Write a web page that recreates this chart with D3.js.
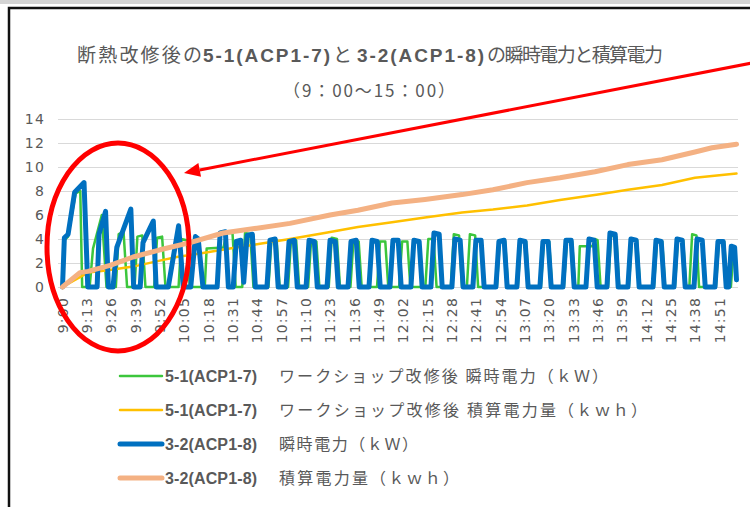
<!DOCTYPE html>
<html lang="ja">
<head>
<meta charset="UTF-8">
<title>瞬時電力と積算電力</title>
<style>
  body { margin: 0; background: #fff; }
  text { fill: #595959; }
  .jp { font-family: "Noto Sans CJK JP", sans-serif; }
  .lat { font-family: "Liberation Sans Narrow", "Liberation Sans", sans-serif; font-weight: bold; }
  .tick { font-family: "DejaVu Sans", sans-serif; font-size: 14px; letter-spacing: 1.2px; }
  .grid { stroke: #d9d9d9; stroke-width: 1; }
  .series { fill: none; stroke-linejoin: round; stroke-linecap: round; }
</style>
</head>
<body>
<script src="https://cdn.jsdelivr.net/npm/d3@7"></script>
<script>
// minutes after 9:00, value
const green51Kw = [
  [0,0],[1,3.9],[3,4.2],[7,7.8],[9.5,8.0],[10.5,0],
  [14.5,0],[16.3,3.2],[21,6.0],[23.5,0],
  [28.5,0],[30,4.4],[32.6,4.6],[34.5,0],
  [38.5,0],[40,4.2],[42.6,4.3],[44.3,0],
  [49,0],[50.5,4.1],[53.2,4.2],[55,0],
  [62,0],[63.5,4.0],[66.3,3.9],[68,0],
  [76,0],[77,3.2],[86,3.3],[87.5,4.5],[90.8,4.5],[92.5,0],
  [96,0],[97.5,4.5],[100.3,4.4],[102,0],
  [110,0],[111.6,3.9],[114.4,3.9],[116,0],
  [120.5,0],[122,3.8],[124.8,3.9],[126.4,0],
  [131.2,0],[132.8,3.9],[135.6,3.8],[137.2,0],
  [142.2,0],[143.8,4.1],[146.6,4.0],[148.2,0],
  [153.8,0],[155.4,3.9],[158.2,3.8],[159.8,0],
  [168,0],[169.6,3.8],[172.4,3.8],[174,0],
  [179.8,0],[181.4,3.8],[184.2,3.8],[185.8,0],
  [193.8,0],[195.4,4.0],[198.2,4.0],[199.8,0],
  [207.4,0],[209,4.4],[211.8,4.3],[213.4,0],
  [216,0],[217.6,4.4],[220.4,4.3],[222,0],
  [232,0],[233.6,3.9],[236.4,3.8],[238,0],
  [243.2,0],[244.8,3.8],[247.6,3.8],[249.2,0],
  [255.5,0],[257.1,3.8],[259.9,3.8],[261.5,0],
  [267.8,0],[269.4,3.8],[272.2,3.8],[273.8,0],
  [275.5,0],[276.3,3.4],[283,3.4],[284.5,4.0],[285.8,3.9],[287.4,0],
  [291.4,0],[293,4.3],[295.8,4.2],[297.4,0],
  [302.5,0],[304.1,3.9],[306.9,3.9],[308.5,0],
  [315.9,0],[317.5,3.8],[320.3,3.8],[321.9,0],
  [327.1,0],[328.7,3.9],[331.5,3.9],[333.1,0],
  [334.8,0],[336.3,4.4],[338.6,4.3],[340,0],
  [349,0],[350.6,3.8],[353.4,3.8],[355,0],
  [357,0],[358.5,3.2],[360,0.5]
];

const yellow51Kwh = [
  [0,0],[13.6,1.2],[24.3,1.4],[37.7,1.7],[52,2.2],[61,2.5],[73.4,2.8],
  [91,3.25],[105.5,3.6],[121.5,4.0],[140,4.5],[157.8,5.0],[176,5.4],
  [193.6,5.8],[213.4,6.2],[229.9,6.45],[248.1,6.8],[265.7,7.25],[286,7.7],
  [302,8.1],[320.2,8.5],[337.8,9.1],[360,9.45]
];

const blue32Kw = [
  [0,0],[1,4.1],[3,4.4],[6.5,7.9],[11.5,8.7],[13.5,0],
  [18.5,0],[19.5,4.4],[23,6.3],[24.5,0],
  [27,0],[29,3.3],[36.5,6.5],[38,0],
  [41.5,0],[43,3.7],[48.5,5.5],[50,0],
  [56.5,0],[62,5.1],[64.5,0],
  [68.5,0],[71,4.2],[72.5,4.0],[75,0],
  [82.6,0],[84.2,4.5],[87,4.6],[88.6,0],
  [91.2,0],[92.8,3.8],[95.2,3.9],[96.8,0.4],[98.6,4.3],[101.4,4.4],[103,0],
  [109.2,0],[110.8,3.9],[113.6,4.0],[115.2,0],
  [119.4,0],[121,3.8],[123.8,3.9],[125.4,0],
  [130.1,0],[131.7,3.9],[134.5,3.8],[136.1,0],
  [141.3,0],[142.9,3.9],[145.7,3.8],[147.3,0],
  [152.5,0],[154.1,3.8],[156.9,3.9],[158.5,0],
  [163.7,0],[165.3,3.9],[168.1,3.8],[169.7,0],
  [174.9,0],[176.5,3.9],[179.3,3.9],[180.9,0],
  [186.1,0],[187.7,3.9],[190.5,3.8],[192.1,0],
  [196.8,0],[198.4,4.5],[201.2,4.4],[202.8,0],
  [208,0],[209.6,4.0],[212.4,3.9],[214,0],
  [219.2,0],[220.8,3.9],[223.6,3.9],[225.2,0],
  [231.5,0],[233.1,3.8],[235.9,3.9],[237.5,0],
  [242.7,0],[244.3,3.9],[247.1,3.8],[248.7,0],
  [255,0],[256.6,3.8],[259.4,3.8],[261,0],
  [267.3,0],[268.9,3.9],[271.7,3.9],[273.3,0],
  [279.6,0],[281.2,4.0],[284,3.9],[285.6,0],
  [290.8,0],[292.4,4.5],[295.2,4.4],[296.8,0],
  [302,0],[303.6,4.0],[306.4,3.9],[308,0],
  [315.4,0],[317,3.9],[319.8,3.8],[321.4,0],
  [326.6,0],[328.2,4.0],[331,3.9],[332.6,0],
  [337.3,0],[338.9,4.0],[341.7,3.9],[343.3,0],
  [348.5,0],[350.1,3.8],[352.9,3.8],[354.5,0],
  [355.8,0],[357.2,3.4],[359,3.3],[360,0.6]
];

const orange32Kwh = [
  [0,0],[9.3,1.2],[13.6,1.3],[25.4,1.8],[37.7,2.5],[52.1,3.1],[68.1,3.7],
  [85.7,4.5],[103.9,4.9],[121.5,5.3],[142.9,6.0],[157.8,6.4],[176,7.0],
  [193.6,7.3],[213.4,7.7],[229.9,8.1],[248.1,8.7],[265.7,9.1],[284.4,9.6],
  [302,10.2],[320.2,10.6],[337.8,11.25],[346.9,11.6],[360,11.9]
];

const timeLabels = ["9:00","9:13","9:26","9:39","9:52","10:05","10:18","10:31","10:44",
  "10:57","11:10","11:23","11:36","11:49","12:02","12:15","12:28","12:41","12:54",
  "13:07","13:20","13:33","13:46","13:59","14:12","14:25","14:38","14:51"];
const yTicks = [0, 2, 4, 6, 8, 10, 12, 14];

const seriesNames = [
  ["5-1(ACP1-7)", "ワークショップ改修後 瞬時電力（ｋＷ）"],
  ["5-1(ACP1-7)", "ワークショップ改修後 積算電力量（ｋｗｈ）"],
  ["3-2(ACP1-8)", "瞬時電力（ｋＷ）"],
  ["3-2(ACP1-8)", "積算電力量（ｋｗｈ）"]
];

const width = 750, height = 507;
const svg = d3.select("body").append("svg")
  .attr("width", width).attr("height", height);

// frame
svg.append("rect").attr("x", 0).attr("y", 0).attr("width", width).attr("height", 4).attr("fill", "#d4d4d4");
svg.append("path").attr("d", "M9,507 V8 H750").attr("fill", "none")
  .attr("stroke", "#111").attr("stroke-width", 2.5);

const x = d3.scaleLinear().domain([0, 360]).range([62.5, 736.5]);
const y = d3.scaleLinear().domain([0, 14]).range([287, 119]);
const toMin = s => { const [h, m] = s.split(":").map(Number); return (h - 9) * 60 + m; };

// grid
svg.append("g").selectAll("line").data(yTicks).join("line")
  .attr("class", "grid")
  .attr("x1", 58).attr("x2", 738)
  .attr("y1", d => Math.round(y(d)) + 0.5).attr("y2", d => Math.round(y(d)) + 0.5);

svg.append("g").selectAll("text").data(yTicks).join("text")
  .attr("class", "tick").attr("text-anchor", "end")
  .attr("x", 45).attr("y", d => y(d)).attr("dy", "0.36em")
  .text(d => d);

svg.append("g").selectAll("text").data(timeLabels).join("text")
  .attr("class", "tick").attr("text-anchor", "end")
  .attr("transform", d => `translate(${x(toMin(d))},297) rotate(-90)`)
  .attr("dy", "0.36em")
  .text(d => d);

// title
const title = svg.append("text").attr("y", 62).style("font-size", "19px");
title.append("tspan").attr("class", "jp").attr("x", 77).attr("textLength", 125).text("断熱改修後の");
title.append("tspan").attr("class", "lat").attr("x", 203).attr("textLength", 127).text("5-1(ACP1-7)");
title.append("tspan").attr("class", "jp").attr("x", 333).attr("textLength", 20).text("と");
title.append("tspan").attr("class", "lat").attr("x", 357).attr("textLength", 127).text("3-2(ACP1-8)");
title.append("tspan").attr("class", "jp").attr("x", 487).attr("textLength", 176).text("の瞬時電力と積算電力");
svg.append("text").attr("class", "jp").attr("x", 283).attr("y", 97)
  .attr("textLength", 172).style("font-size", "17px").text("（9：00～15：00）");

// series
const line = d3.line().x(d => x(d[0])).y(d => y(d[1]));
const styles = [
  { data: green51Kw, color: "#3cc63c", w: 2.5 },
  { data: yellow51Kwh, color: "#ffc000", w: 2.5 },
  { data: blue32Kw, color: "#0070c0", w: 5 },
  { data: orange32Kwh, color: "#f4b183", w: 5 }
];
svg.append("g").selectAll("path").data(styles).join("path")
  .attr("class", "series")
  .attr("d", d => line(d.data))
  .attr("stroke", d => d.color)
  .attr("stroke-width", d => d.w);

// legend
const rowY = [376, 410, 444, 478];
const leg = svg.append("g").selectAll("g").data(seriesNames).join("g")
  .attr("transform", (d, i) => `translate(0,${rowY[i]})`);
leg.append("line").attr("x1", 120).attr("x2", 162)
  .attr("stroke", (d, i) => styles[i].color)
  .attr("stroke-width", (d, i) => styles[i].w)
  .attr("stroke-linecap", "round");
leg.append("text").attr("class", "lat").attr("x", 165).attr("dy", "0.36em")
  .attr("textLength", 92).style("font-size", "16px").text(d => d[0]);
const jpLen = [329, 368, 139, 180];
leg.append("text").attr("class", "jp").attr("x", 279).attr("dy", "0.36em")
  .attr("textLength", (d, i) => jpLen[i]).style("font-size", "16px").text(d => d[1]);

// red annotation
svg.append("ellipse").attr("cx", 118).attr("cy", 247).attr("rx", 71).attr("ry", 104)
  .attr("fill", "none").attr("stroke", "#ff0000").attr("stroke-width", 5);
const tip = [184, 173], tail = [752, 63];
const len = Math.hypot(tail[0] - tip[0], tail[1] - tip[1]);
const ux = (tail[0] - tip[0]) / len, uy = (tail[1] - tip[1]) / len;
const bx = tip[0] + ux * 16, by = tip[1] + uy * 16;
svg.append("line").attr("x1", tail[0]).attr("y1", tail[1]).attr("x2", bx).attr("y2", by)
  .attr("stroke", "#ff0000").attr("stroke-width", 3);
svg.append("path")
  .attr("d", `M${tip[0]},${tip[1]} L${bx - uy * 7},${by + ux * 7} L${bx + uy * 7},${by - ux * 7} Z`)
  .attr("fill", "#ff0000");
</script>
</body>
</html>
